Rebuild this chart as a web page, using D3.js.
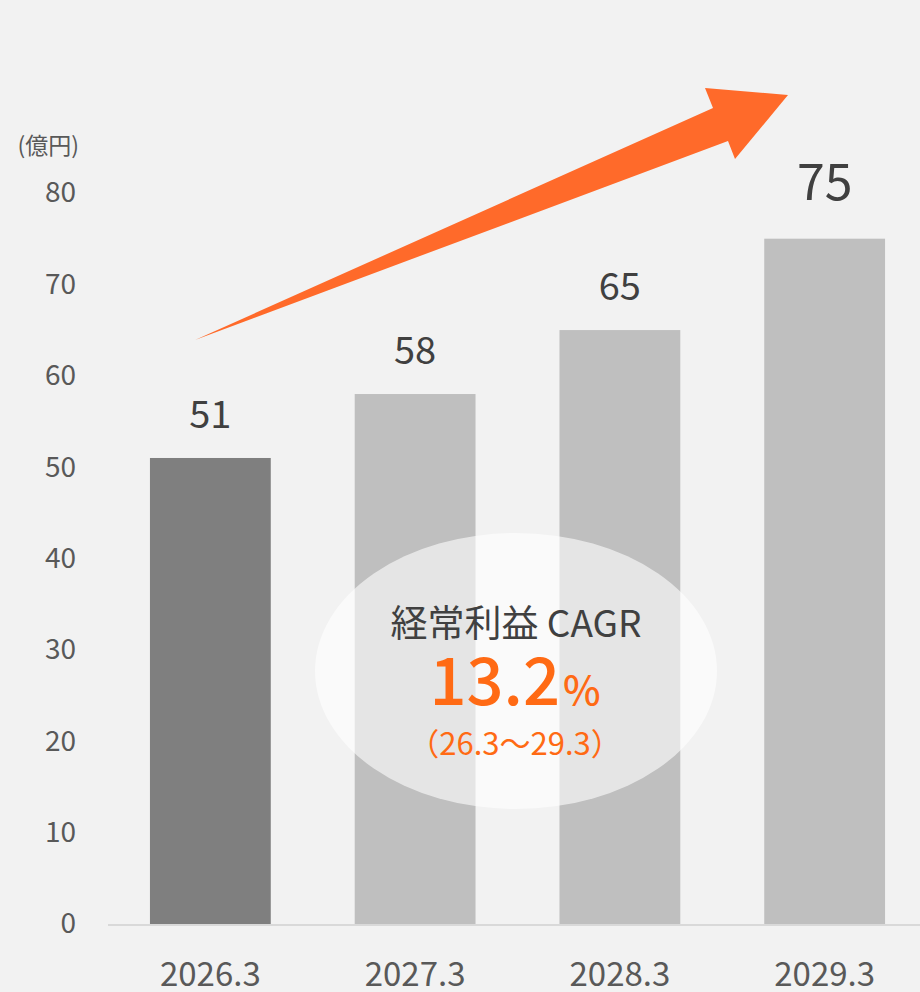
<!DOCTYPE html>
<html>
<head>
<meta charset="utf-8">
<script src="https://cdn.jsdelivr.net/npm/d3@7"></script>
<style>
  html, body { margin: 0; padding: 0; background: #f2f2f2; }
  svg { display: block; font-family: "Noto Sans CJK JP", "Noto Sans", sans-serif; }
</style>
</head>
<body>
<svg id="chart"></svg>
<script>
// data
let years = ['2026.3', '2027.3', '2028.3', '2029.3'];
let profits = [51, 58, 65, 75];
let yTicks = [0, 10, 20, 30, 40, 50, 60, 70, 80];
let unitLabel = '(億円)';
let cagrTitle = '経常利益 CAGR';
let cagrValue = '13.2';
let cagrPeriod = '（26.3～29.3）';

let width = 920;
let height = 992;

let svg = d3.select('#chart')
	.attr('width', width)
	.attr('height', height);

svg.append('rect')
	.attr('width', width).attr('height', height)
	.attr('fill', '#f2f2f2');

let x = d3.scaleBand()
	.domain(years)
	.range([109, 926])
	.paddingInner(0.41)
	.paddingOuter(0.2);

let y = d3.scaleLinear()
	.domain([0, 80])
	.range([924, 193]);

// y axis labels
let yAxis = svg.append('g')
	.attr('transform', 'translate(76,0)')
	.call(d3.axisLeft(y).tickValues(yTicks).tickSize(0).tickPadding(0));
yAxis.select('.domain').remove();
yAxis.selectAll('text')
	.attr('font-size', 28)
	.attr('fill', '#595959')
	.attr('font-family', '"Noto Sans CJK JP", sans-serif');

svg.append('text')
	.attr('x', 79).attr('y', 154)
	.attr('text-anchor', 'end')
	.attr('font-size', 23)
	.attr('fill', '#595959')
	.text(unitLabel);

// bars
svg.append('g')
	.selectAll('rect')
	.data(profits)
	.enter()
	.append('rect')
	.attr('x', (d, i) => x(years[i]))
	.attr('y', d => y(d))
	.attr('width', x.bandwidth())
	.attr('height', d => y(0) - y(d))
	.attr('fill', (d, i) => i === 0 ? '#7f7f7f' : '#bfbfbf');

// baseline
svg.append('line')
	.attr('x1', 108).attr('x2', width)
	.attr('y1', y(0) + 1).attr('y2', y(0) + 1)
	.attr('stroke', '#d9d9d9').attr('stroke-width', 2);

// x axis labels (cut by the bottom edge, as in the original)
let xAxis = svg.append('g')
	.attr('transform', 'translate(0,' + y(0) + ')')
	.call(d3.axisBottom(x).tickSize(0).tickPadding(39));
xAxis.select('.domain').remove();
xAxis.selectAll('text')
	.attr('font-size', 33)
	.attr('fill', '#595959')
	.attr('font-family', '"Noto Sans CJK JP", sans-serif');

// value labels
svg.append('g')
	.selectAll('text')
	.data(profits)
	.enter()
	.append('text')
	.attr('x', (d, i) => x(years[i]) + x.bandwidth() / 2)
	.attr('y', (d, i) => y(d) - (i === profits.length - 1 ? 39 : 30))
	.attr('text-anchor', 'middle')
	.attr('font-size', (d, i) => i === profits.length - 1 ? 50 : 38)
	.attr('fill', '#404040')
	.text(d => d);

// growth arrow
let arrow = [[195, 340], [713, 108], [705, 88], [788, 95], [735, 159], [728, 141]];
svg.append('path')
	.attr('d', d3.line()(arrow) + 'Z')
	.attr('fill', '#ff6a2a');

// CAGR bubble
svg.append('ellipse')
	.attr('cx', 516).attr('cy', 671)
	.attr('rx', 201).attr('ry', 138)
	.attr('fill', '#ffffff')
	.attr('fill-opacity', 0.6);

svg.append('text')
	.attr('x', 516).attr('y', 637)
	.attr('text-anchor', 'middle')
	.attr('font-size', 37)
	.attr('fill', '#404040')
	.text(cagrTitle);

let big = svg.append('text')
	.attr('x', 515).attr('y', 705)
	.attr('text-anchor', 'middle')
	.attr('fill', '#ff6a14')
	.attr('font-weight', 500);
big.append('tspan').attr('font-size', 65).text(cagrValue);
big.append('tspan').attr('font-size', 40).attr('dx', 3).text('%');

svg.append('text')
	.attr('x', 515).attr('y', 755)
	.attr('text-anchor', 'middle')
	.attr('font-size', 31)
	.attr('fill', '#ff6a14')
	.text(cagrPeriod);
</script>
</body>
</html>
